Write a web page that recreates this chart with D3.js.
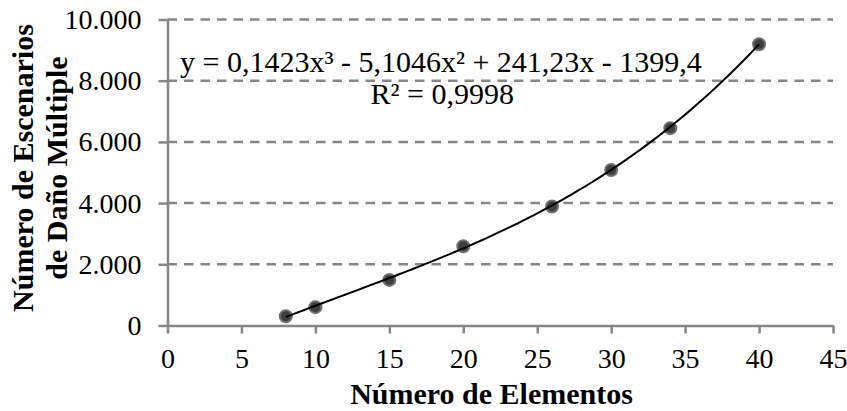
<!DOCTYPE html>
<html>
<head>
<meta charset="utf-8">
<script src="https://cdn.jsdelivr.net/npm/d3@7"></script>
<style>
  html, body { margin: 0; padding: 0; background: #fff; }
  svg { display: block; }
  text { font-family: "Liberation Serif", "Times New Roman", serif; fill: #000; }
</style>
</head>
<body>
<svg id="chart" width="847" height="411"></svg>
<script>
const xValues = [8, 10, 15, 20, 26, 30, 34, 40];
const yValues = [300, 600, 1490, 2590, 3890, 5080, 6450, 9190];
const xTicks = [0, 5, 10, 15, 20, 25, 30, 35, 40, 45];
const yTicks = [0, 2000, 4000, 6000, 8000, 10000];
const trendCoefs = [0.1423, -5.1046, 241.23, -1399.4]; // x^3, x^2, x, const
const trendX = d3.range(8, 40.01, 0.25);
const equationText = "y = 0,1423x³ - 5,1046x² + 241,23x - 1399,4";
const r2Text = "R² = 0,9998";
const xTitle = "Número de Elementos";
const yTitleLines = ["Número de Escenarios", "de Daño Múltiple"];

const svg = d3.select("#chart");
const pLeft = 167.5, pRight = 833, pTop = 19.5, pBottom = 325.5;
const x = d3.scaleLinear().domain([0, 45]).range([pLeft, pRight]);
const y = d3.scaleLinear().domain([0, 10000]).range([pBottom, pTop]);
const fmt = v => d3.format(",")(v).replace(/,/g, ".");
const axisColor = "#868686";

// gridlines
svg.append("g").selectAll("line")
  .data(yTicks.filter(d => d > 0))
  .join("line")
  .attr("x1", pLeft).attr("x2", pRight)
  .attr("y1", d => y(d)).attr("y2", d => y(d))
  .attr("stroke", axisColor).attr("stroke-width", 2.5)
  .attr("stroke-dasharray", "9.5,7");

// y axis
const yAxis = svg.append("g").attr("transform", `translate(${pLeft},0)`)
  .call(d3.axisLeft(y).tickValues(yTicks).tickFormat(fmt).tickSizeInner(9).tickSizeOuter(0).tickPadding(17));
yAxis.select(".domain").attr("stroke", axisColor).attr("stroke-width", 2.5);
yAxis.selectAll(".tick line").attr("stroke", axisColor).attr("stroke-width", 2.5);
yAxis.selectAll(".tick text").attr("font-size", 28).attr("font-family", "Liberation Serif").attr("fill", "#000");

// x axis
const xAxis = svg.append("g").attr("transform", `translate(0,${pBottom})`)
  .call(d3.axisBottom(x).tickValues(xTicks).tickFormat(d3.format("d")).tickSizeInner(8).tickSizeOuter(0).tickPadding(15));
xAxis.select(".domain").attr("stroke", axisColor).attr("stroke-width", 2.5);
xAxis.selectAll(".tick line").attr("stroke", axisColor).attr("stroke-width", 2.5);
xAxis.selectAll(".tick text").attr("font-size", 28).attr("font-family", "Liberation Serif").attr("fill", "#000");

// points
svg.append("g").selectAll("circle")
  .data(xValues.map((d, i) => [d, yValues[i]]))
  .join("circle")
  .attr("cx", d => x(d[0])).attr("cy", d => y(d[1]))
  .attr("r", 6)
  .attr("fill", "#3f3f3f")
  .attr("stroke", "#6e6e6e").attr("stroke-width", 2);

// trendline
const poly = v => trendCoefs[0] * v ** 3 + trendCoefs[1] * v ** 2 + trendCoefs[2] * v + trendCoefs[3];
svg.append("path")
  .datum(trendX.map(v => [v, poly(v)]))
  .attr("fill", "none").attr("stroke", "#000").attr("stroke-width", 2)
  .attr("d", d3.line().x(d => x(d[0])).y(d => y(d[1])));

// equation
svg.append("text").attr("x", 180).attr("y", 72).attr("font-size", 30).text(equationText);
svg.append("text").attr("x", 514).attr("y", 104).attr("font-size", 30).attr("text-anchor", "end").text(r2Text);

// axis titles
svg.append("text").attr("x", 491.5).attr("y", 404)
  .attr("text-anchor", "middle").attr("font-size", 30).attr("font-weight", "bold").text(xTitle);
yTitleLines.forEach((t, i) => {
  svg.append("text")
    .attr("transform", `translate(${33 + i * 34},168) rotate(-90)`)
    .attr("text-anchor", "middle").attr("font-size", 30).attr("font-weight", "bold").text(t);
});
</script>
</body>
</html>
